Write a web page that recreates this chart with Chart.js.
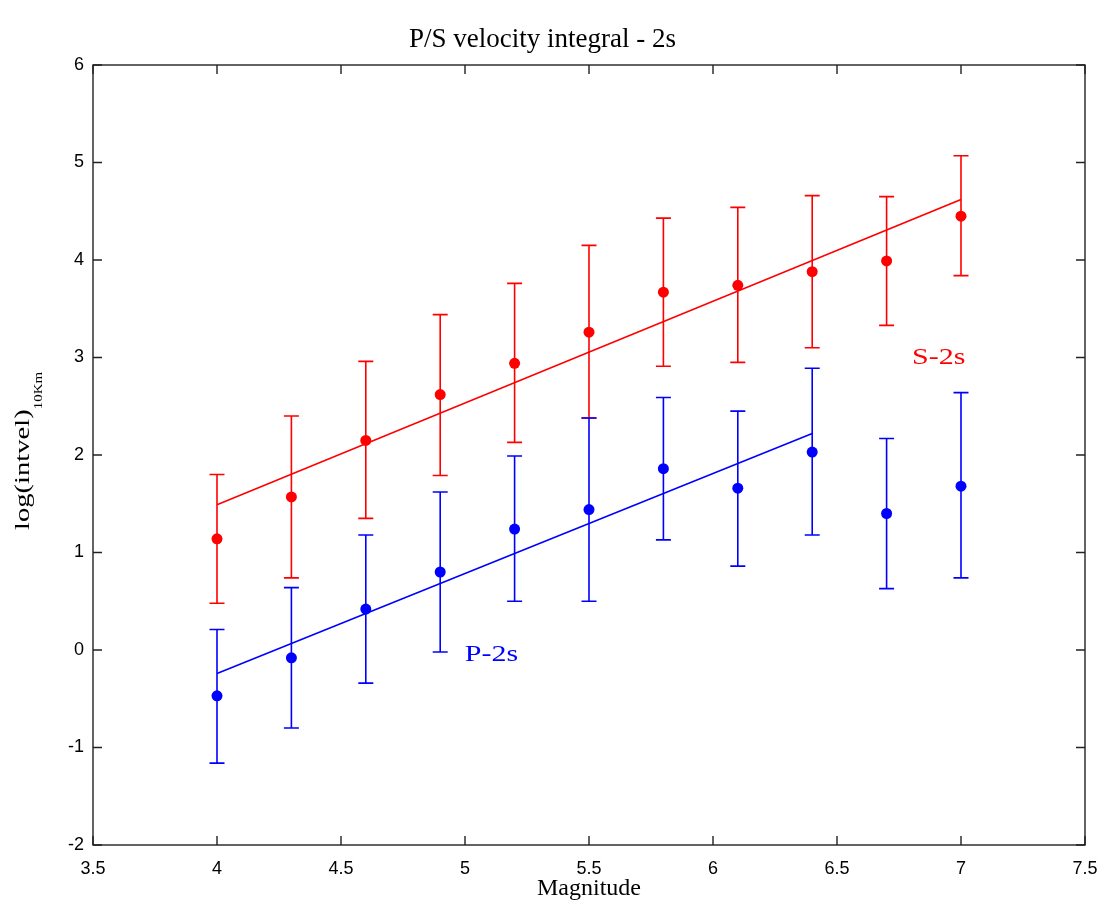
<!DOCTYPE html>
<html>
<head>
<meta charset="utf-8">
<script src="https://cdn.jsdelivr.net/npm/chart.js@4/dist/chart.umd.min.js"></script>
<style>
  html, body { margin: 0; padding: 0; background: #fff; }
  #wrap { width: 1105px; height: 909px; }
</style>
</head>
<body>
<div id="wrap"><canvas id="myChart" width="1105" height="909"></canvas></div>
<script>
'use strict';

// magnitudes (x)
let mags = [4, 4.3, 4.6, 4.9, 5.2, 5.5, 5.8, 6.1, 6.4, 6.7, 7.0];

// S-2s means and error bar ends
let sMean = [1.14, 1.57, 2.15, 2.62, 2.94, 3.26, 3.67, 3.74, 3.88, 3.99, 4.45];
let sHigh = [1.80, 2.40, 2.96, 3.44, 3.76, 4.15, 4.43, 4.54, 4.66, 4.65, 5.07];
let sLow  = [0.48, 0.74, 1.35, 1.79, 2.13, 2.38, 2.91, 2.95, 3.10, 3.33, 3.84];

// P-2s means and error bar ends
let pMean = [-0.47, -0.08, 0.42, 0.80, 1.24, 1.44, 1.86, 1.66, 2.03, 1.40, 1.68];
let pHigh = [0.21, 0.64, 1.18, 1.62, 1.99, 2.38, 2.59, 2.45, 2.89, 2.17, 2.64];
let pLow  = [-1.16, -0.80, -0.34, -0.02, 0.50, 0.50, 1.13, 0.86, 1.18, 0.63, 0.74];

// fitted lines
let sFitX = [4, 7];
let sFitY = [1.49, 4.62];
let pFitX = [4, 6.4];
let pFitY = [-0.24, 2.22];

// tick values
let xTicks = [3.5, 4, 4.5, 5, 5.5, 6, 6.5, 7, 7.5];
let yTicks = [-2, -1, 0, 1, 2, 3, 4, 5, 6];

// text labels placed in data coords
let seriesLabels = [
  { text: 'S-2s', x: 6.91, y: 3.0, color: '#ff0000' },
  { text: 'P-2s', x: 5.107, y: -0.05, color: '#0000ff' }
];

let RED = '#ff0000';
let BLUE = '#0000ff';

function toPoints(xs, ys) {
  let pts = [];
  for (let i = 0; i < xs.length; i++) {
    pts.push({ x: xs[i], y: ys[i] });
  }
  return pts;
}

// error bars, box, inward ticks, series labels and y title
let extras = {
  id: 'extras',
  beforeDatasetsDraw(chart) {
    let ctx = chart.ctx;
    let xs = chart.scales.x;
    let ys = chart.scales.y;
    let bars = [
      { low: sLow, high: sHigh, color: RED },
      { low: pLow, high: pHigh, color: BLUE }
    ];
    ctx.save();
    ctx.lineWidth = 1.6;
    bars.forEach(function (b) {
      ctx.strokeStyle = b.color;
      for (let i = 0; i < mags.length; i++) {
        let px = xs.getPixelForValue(mags[i]);
        let top = ys.getPixelForValue(b.high[i]);
        let bot = ys.getPixelForValue(b.low[i]);
        ctx.beginPath();
        ctx.moveTo(px, top); ctx.lineTo(px, bot);
        ctx.moveTo(px - 7.5, top); ctx.lineTo(px + 7.5, top);
        ctx.moveTo(px - 7.5, bot); ctx.lineTo(px + 7.5, bot);
        ctx.stroke();
      }
    });
    ctx.restore();
  },
  afterDraw(chart) {
    let ctx = chart.ctx;
    let a = chart.chartArea;
    let xs = chart.scales.x;
    let ys = chart.scales.y;
    ctx.save();
    ctx.strokeStyle = '#222';
    ctx.lineWidth = 1.4;
    ctx.strokeRect(a.left, a.top, a.right - a.left, a.bottom - a.top);
    ctx.beginPath();
    xTicks.forEach(function (v) {
      let px = xs.getPixelForValue(v);
      ctx.moveTo(px, a.bottom); ctx.lineTo(px, a.bottom - 9);
      ctx.moveTo(px, a.top); ctx.lineTo(px, a.top + 9);
    });
    yTicks.forEach(function (v) {
      let py = ys.getPixelForValue(v);
      ctx.moveTo(a.left, py); ctx.lineTo(a.left + 9, py);
      ctx.moveTo(a.right, py); ctx.lineTo(a.right - 9, py);
    });
    ctx.stroke();
    ctx.restore();

    // series labels, slightly wide serif like the original
    seriesLabels.forEach(function (l) {
      ctx.save();
      ctx.translate(xs.getPixelForValue(l.x), ys.getPixelForValue(l.y));
      ctx.scale(1.25, 1);
      ctx.font = '24px "Liberation Serif", serif';
      ctx.textAlign = 'center';
      ctx.textBaseline = 'middle';
      ctx.fillStyle = l.color;
      ctx.fillText(l.text, 0, 0);
      ctx.restore();
    });

    // y axis title with subscript
    ctx.save();
    ctx.fillStyle = '#000';
    ctx.translate(23, 451);
    ctx.rotate(-Math.PI / 2);
    let main = 'log(intvel)';
    let sub = '10Km';
    ctx.font = '22px "Liberation Serif", serif';
    let w1 = ctx.measureText(main).width * 1.3;
    ctx.font = '13px "Liberation Serif", serif';
    let w2 = ctx.measureText(sub).width * 1.15;
    let start = -(w1 + w2) / 2;
    ctx.textAlign = 'left';
    ctx.textBaseline = 'alphabetic';
    ctx.save();
    ctx.translate(start, 6);
    ctx.scale(1.3, 1);
    ctx.font = '22px "Liberation Serif", serif';
    ctx.fillText(main, 0, 0);
    ctx.restore();
    ctx.save();
    ctx.translate(start + w1, 19);
    ctx.scale(1.15, 1);
    ctx.font = '13px "Liberation Serif", serif';
    ctx.fillText(sub, 0, 0);
    ctx.restore();
    ctx.restore();
  }
};

let ctx = document.getElementById('myChart').getContext('2d');
let chart = new Chart(ctx, {
  type: 'scatter',
  data: {
    datasets: [{
      label: 'S-2s fit',
      type: 'line',
      data: toPoints(sFitX, sFitY),
      borderColor: RED,
      borderWidth: 1.6,
      pointRadius: 0,
      fill: false
    }, {
      label: 'P-2s fit',
      type: 'line',
      data: toPoints(pFitX, pFitY),
      borderColor: BLUE,
      borderWidth: 1.6,
      pointRadius: 0,
      fill: false
    }, {
      label: 'S-2s',
      data: toPoints(mags, sMean),
      backgroundColor: RED,
      borderColor: RED,
      pointRadius: 5.5,
      borderWidth: 0
    }, {
      label: 'P-2s',
      data: toPoints(mags, pMean),
      backgroundColor: BLUE,
      borderColor: BLUE,
      pointRadius: 5.5,
      borderWidth: 0
    }]
  },
  plugins: [extras],
  options: {
    responsive: false,
    animation: false,
    layout: { padding: { left: 0, right: 20, top: 0, bottom: 0 } },
    plugins: {
      legend: { display: false },
      tooltip: { enabled: false },
      title: {
        display: true,
        text: 'P/S velocity integral - 2s',
        color: '#000',
        font: { family: '"Liberation Serif", serif', size: 27, weight: 'normal' },
        padding: { top: 24, bottom: 8.6 }
      }
    },
    scales: {
      x: {
        type: 'linear',
        min: 3.5,
        max: 7.5,
        afterBuildTicks(scale) { scale.ticks = xTicks.map(v => ({ value: v })); },
        afterFit(scale) {
          scale.height = 64;
          scale.paddingLeft = 0;
          scale.paddingRight = 0;
        },
        grid: { display: false, drawTicks: false },
        border: { display: false },
        ticks: {
          color: '#000',
          padding: 13,
          maxRotation: 0,
          autoSkip: false,
          callback: v => String(v),
          font: { family: '"Liberation Sans", Arial, sans-serif', size: 18 }
        },
        title: {
          display: true,
          text: 'Magnitude',
          color: '#000',
          font: { family: '"Liberation Serif", serif', size: 24 },
          padding: { top: 0, bottom: 6 }
        }
      },
      y: {
        type: 'linear',
        min: -2,
        max: 6,
        afterBuildTicks(scale) { scale.ticks = yTicks.map(v => ({ value: v })); },
        afterFit(scale) { scale.width = 93; },
        grid: { display: false, drawTicks: false },
        border: { display: false },
        ticks: {
          color: '#000',
          padding: 9,
          autoSkip: false,
          callback: v => String(v),
          font: { family: '"Liberation Sans", Arial, sans-serif', size: 18 }
        }
      }
    }
  }
});
</script>
</body>
</html>
